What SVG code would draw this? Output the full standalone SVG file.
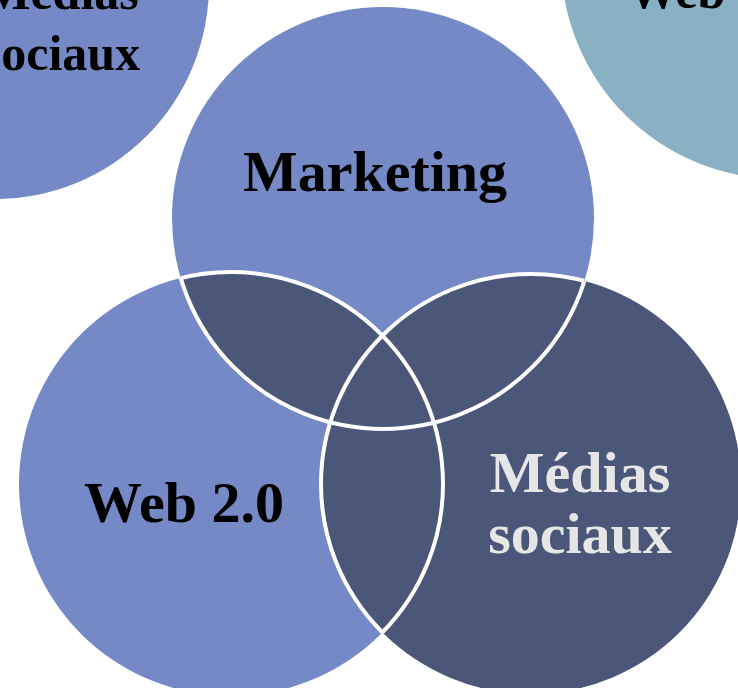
<svg xmlns="http://www.w3.org/2000/svg" width="738" height="688" viewBox="0 0 738 688">
<style>
.light{fill:#7489c5}
.dark{fill:#4a5778}
.teal{fill:#8ab0c3}
.lbl{font-family:"Liberation Serif","Times New Roman",serif;font-weight:bold;text-anchor:middle}
.big{font-size:58px}
.small{font-size:50px}
.blk{fill:#000}
.wht{fill:#e6e6e6}
.edge{fill:none;stroke:#fff;stroke-width:4}
</style>
<defs>
<clipPath id="cWeb"><circle cx="231" cy="484" r="212"/></clipPath>
<clipPath id="cWebMed"><circle cx="231" cy="484" r="212"/><circle cx="531" cy="484" r="210"/></clipPath>
<clipPath id="cMktMed"><circle cx="383" cy="218" r="211"/><circle cx="531" cy="484" r="210"/></clipPath>
<clipPath id="cMktWeb"><circle cx="383" cy="218" r="211"/><circle cx="231" cy="484" r="212"/></clipPath>
</defs>
<rect width="738" height="688" fill="#fff"/>
<g id="bg-medias-sociaux">
<circle class="light" cx="-5" cy="-15" r="214"/>
<text class="lbl small blk" x="61" y="9">Médias</text>
<text class="lbl small blk" x="61" y="70">sociaux</text>
</g>
<g id="bg-web">
<circle class="teal" cx="780" cy="-40" r="219"/>
<text class="lbl small blk" x="628" y="8" style="text-anchor:start">Web 2.0</text>
</g>
<g id="marketing">
<circle class="light" cx="383" cy="218" r="211"/>
</g>
<g id="web20">
<circle class="light" cx="231" cy="484" r="212"/>
</g>
<g id="medias">
<circle class="dark" cx="531" cy="484" r="210"/>
</g>
<g id="overlap-marketing-web">
<circle class="dark" cx="383" cy="218" r="211" clip-path="url(#cWeb)"/>
</g>
<g id="connectors">
<circle class="edge" cx="383" cy="218" r="211" clip-path="url(#cWebMed)"/>
<circle class="edge" cx="231" cy="484" r="212" clip-path="url(#cMktMed)"/>
<circle class="edge" cx="531" cy="484" r="210" clip-path="url(#cMktWeb)"/>
</g>
<g id="labels">
<text class="lbl big blk" x="375" y="191">Marketing</text>
<text class="lbl big blk" x="184" y="522">Web 2.0</text>
<text class="lbl big wht" x="580" y="492">Médias</text>
<text class="lbl big wht" x="580" y="553">sociaux</text>
</g>
</svg>
